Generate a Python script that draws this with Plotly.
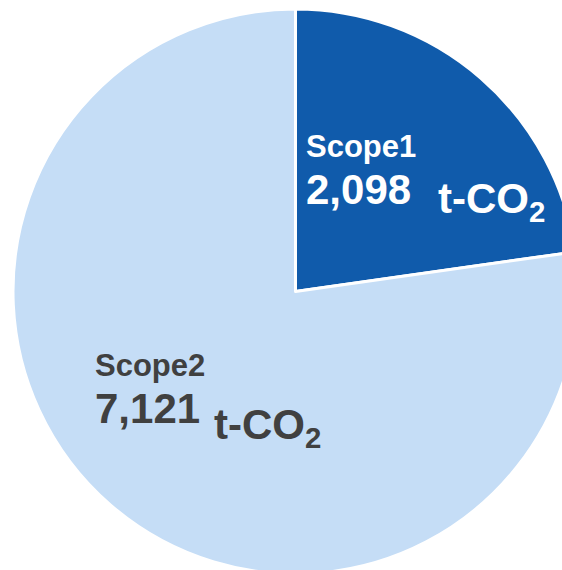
import plotly.graph_objects as go

categories = ["Scope1", "Scope2"]
values = [2098, 7121]
unit = "t-CO<sub>2</sub>"
colors = ["#105BAB", "#C5DDF6"]
label_colors = ["#FFFFFF", "#404040"]

W, H = 592, 584
cx, cy, r = 295.5, 291.5, 282.5

def px(x):
    return x / W

def py(y):
    return 1 - y / H

fig = go.Figure(go.Pie(
    labels=categories,
    values=values,
    sort=False,
    direction="clockwise",
    rotation=0,
    textinfo="none",
    hoverinfo="label+value",
    marker=dict(colors=colors, line=dict(color="#FFFFFF", width=3)),
    domain=dict(x=[px(cx - r), px(cx + r)], y=[py(cy + r), py(cy - r)]),
    showlegend=False,
))

# label anchor positions (pixels) for each category: name, number, unit
label_pos = [
    dict(name=(305, 146.5), num=(305, 189), unit=(437, 201)),
    dict(name=(94, 365.5), num=(94, 408), unit=(213, 427)),
]

font_family = "Liberation Sans, Arial, sans-serif"
annotations = []
for cat, val, col, pos in zip(categories, values, label_colors, label_pos):
    annotations.append(dict(text=cat, x=px(pos["name"][0]), y=py(pos["name"][1]),
                            font=dict(size=31, color=col, family=font_family, weight="bold")))
    annotations.append(dict(text=f"{val:,}", x=px(pos["num"][0]), y=py(pos["num"][1]),
                            font=dict(size=42, color=col, family=font_family, weight="bold")))
    annotations.append(dict(text=unit, x=px(pos["unit"][0]), y=py(pos["unit"][1]),
                            font=dict(size=42, color=col, family=font_family, weight="bold")))
for a in annotations:
    a.update(xref="paper", yref="paper", xanchor="left", yanchor="middle",
             showarrow=False, borderpad=0)

fig.update_layout(
    width=W, height=H,
    margin=dict(l=0, r=0, t=0, b=0),
    paper_bgcolor="#FFFFFF",
    plot_bgcolor="#FFFFFF",
    annotations=annotations,
)

fig.write_html(
    "out.html",
    config={"displayModeBar": False},
    post_script="document.body.style.margin='0';document.body.style.overflow='hidden';",
)
